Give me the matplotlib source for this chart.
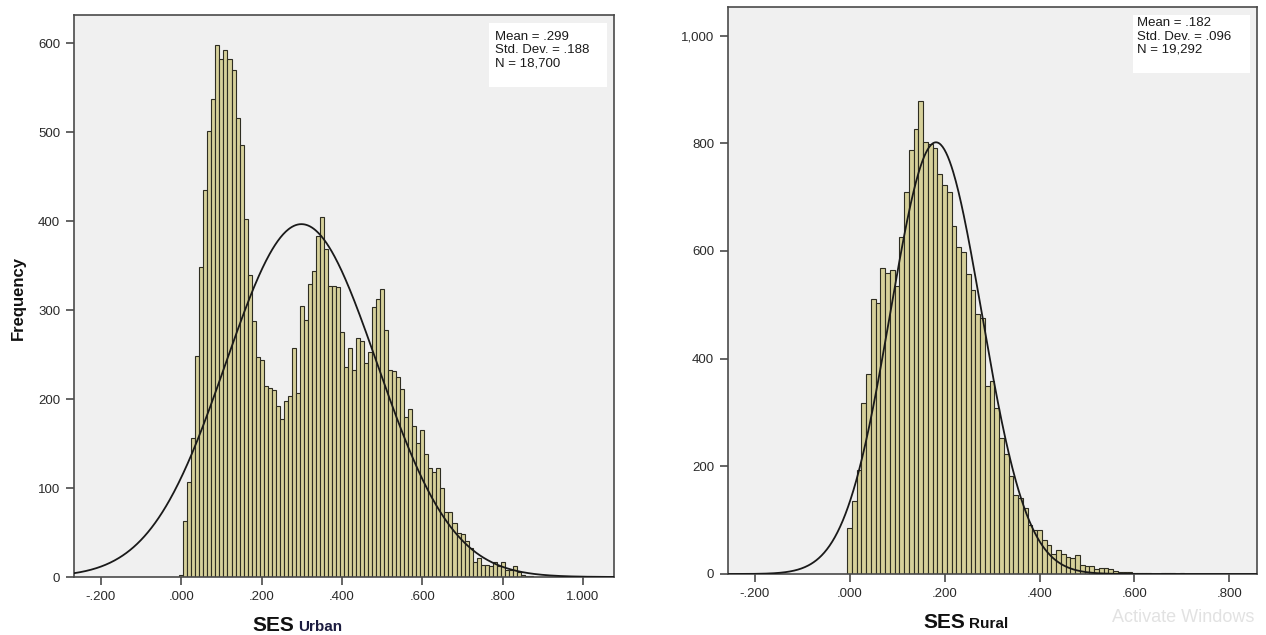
import numpy as np
import matplotlib.pyplot as plt
from matplotlib import font_manager
from matplotlib.patches import Rectangle

# counts per 0.01-wide bin, bins centred on 0.00, 0.01, 0.02, ...
urban_counts = [2, 63, 107, 156, 248, 349, 435, 501, 537, 598,
                583, 593, 583, 570, 516, 486, 403, 340, 288, 247,
                244, 215, 212, 210, 192, 178, 198, 203, 257, 207,
                305, 289, 330, 344, 384, 405, 369, 327, 327, 326,
                275, 236, 257, 233, 269, 265, 241, 253, 304, 313,
                324, 278, 233, 232, 225, 211, 180, 189, 170, 151,
                165, 138, 123, 118, 123, 100, 73, 73, 61, 49,
                48, 41, 33, 17, 21, 14, 14, 12, 17, 12,
                17, 8, 8, 12, 6, 2, 1, 1]
rural_counts = [85, 136, 193, 317, 371, 511, 503, 568, 559, 565,
                534, 625, 709, 788, 827, 879, 802, 799, 791, 743,
                722, 709, 646, 608, 598, 557, 528, 483, 475, 350,
                359, 308, 252, 222, 182, 147, 141, 123, 91, 82,
                81, 64, 54, 38, 45, 38, 32, 29, 35, 17,
                15, 14, 9, 12, 12, 9, 6, 4, 4, 3,
                2, 2, 1, 1, 0, 0, 1, 1, 1, 0, 1]
bin_width = 0.01

urban_stats = (0.299, 0.188, 18700)
rural_stats = (0.182, 0.096, 19292)

urban_xticks = [-0.2, 0.0, 0.2, 0.4, 0.6, 0.8, 1.0]
urban_xlabels = ['-.200', '.000', '.200', '.400', '.600', '.800', '1.000']
urban_yticks = [0, 100, 200, 300, 400, 500, 600]
urban_ylabels = ['0', '100', '200', '300', '400', '500', '600']

rural_xticks = [-0.2, 0.0, 0.2, 0.4, 0.6, 0.8]
rural_xlabels = ['-.200', '.000', '.200', '.400', '.600', '.800']
rural_yticks = [0, 200, 400, 600, 800, 1000]
rural_ylabels = ['0', '200', '400', '600', '800', '1,000']

names = {f.name for f in font_manager.fontManager.ttflist}
narrow = 'Liberation Sans Narrow' if 'Liberation Sans Narrow' in names else 'Liberation Sans'
nsize = 10 if narrow == 'Liberation Sans Narrow' else 9

W, H = 1266, 635
fig = plt.figure(figsize=(W / 100, H / 100), dpi=100)
fig.patch.set_facecolor('white')

ax1 = fig.add_axes([74 / W, 1 - 577 / H, 540 / W, 562 / H])
ax2 = fig.add_axes([728 / W, 1 - 574 / H, 529 / W, 567 / H])


def draw(ax, counts, stats, xlim, ylim, xt, xl, yt, yl, box, txt_xy):
    mean, sd, n = stats
    centers = np.arange(len(counts)) * bin_width
    ax.set_facecolor('#f0f0f0')
    ax.bar(centers, counts, width=bin_width, color='#d6d09a',
           edgecolor='#2e2d22', linewidth=0.8, zorder=2)
    xs = np.linspace(xlim[0], xlim[1], 600)
    ys = n * bin_width * np.exp(-0.5 * ((xs - mean) / sd) ** 2) / (sd * np.sqrt(2 * np.pi))
    ax.plot(xs, ys, color='#1a1a1a', linewidth=1.3, zorder=3)
    ax.set_xlim(xlim)
    ax.set_ylim(ylim)
    ax.set_xticks(xt)
    ax.set_xticklabels(xl)
    ax.set_yticks(yt)
    ax.set_yticklabels(yl)
    for s in ax.spines.values():
        s.set_color('#4a4a4a')
        s.set_linewidth(1.2)
    ax.tick_params(direction='out', length=6, width=1.2, color='#4a4a4a',
                   labelcolor='#2a2a2a', labelsize=nsize + 0.5, pad=4)
    for lab in ax.get_xticklabels() + ax.get_yticklabels():
        lab.set_fontfamily(narrow)
    ax.add_patch(Rectangle((box[0], box[1]), box[2], box[3], transform=ax.transAxes,
                           facecolor='white', edgecolor='none', zorder=4))
    ax.text(txt_xy[0], txt_xy[1],
            'Mean = %s\nStd. Dev. = %s\nN = %s' % (('%.3f' % mean)[1:], ('%.3f' % sd)[1:], format(n, ',')),
            transform=ax.transAxes, ha='left', va='top', fontsize=nsize + 0.5, family=narrow,
            color='#1a1a1a', linespacing=1.15, zorder=5)


draw(ax1, urban_counts, urban_stats, (-0.267, 1.077), (0, 632),
     urban_xticks, urban_xlabels, urban_yticks, urban_ylabels,
     (0.7685, 0.872, 0.2185, 0.114), (0.780, 0.972))
draw(ax2, rural_counts, rural_stats, (-0.256, 0.858), (0, 1053),
     rural_xticks, rural_xlabels, rural_yticks, rural_ylabels,
     (0.7656, 0.884, 0.221, 0.102), (0.774, 0.982))

fig.text(18 / W, 1 - 298 / H, 'Frequency', rotation=90, ha='center', va='center',
         fontsize=12, fontweight='bold', family='Liberation Sans', color='#111111')

fig.text(294 / W, 1 - 631 / H, 'SES', ha='right', va='baseline', fontsize=15,
         fontweight='bold', family=narrow, color='#111111')
fig.text(298 / W, 1 - 631 / H, 'Urban', ha='left', va='baseline', fontsize=11,
         fontweight='bold', family=narrow, color='#1c1c40')
fig.text(965 / W, 1 - 628 / H, 'SES', ha='right', va='baseline', fontsize=15,
         fontweight='bold', family=narrow, color='#111111')
fig.text(969 / W, 1 - 628 / H, 'Rural', ha='left', va='baseline', fontsize=11,
         fontweight='bold', family=narrow, color='#111111')

fig.text(1112 / W, 1 - 622 / H, 'Activate Windows', ha='left', va='baseline',
         fontsize=13, family='Liberation Sans', color='#e2e2e2', zorder=0)

fig.savefig('out.png', dpi=100, facecolor='white')
